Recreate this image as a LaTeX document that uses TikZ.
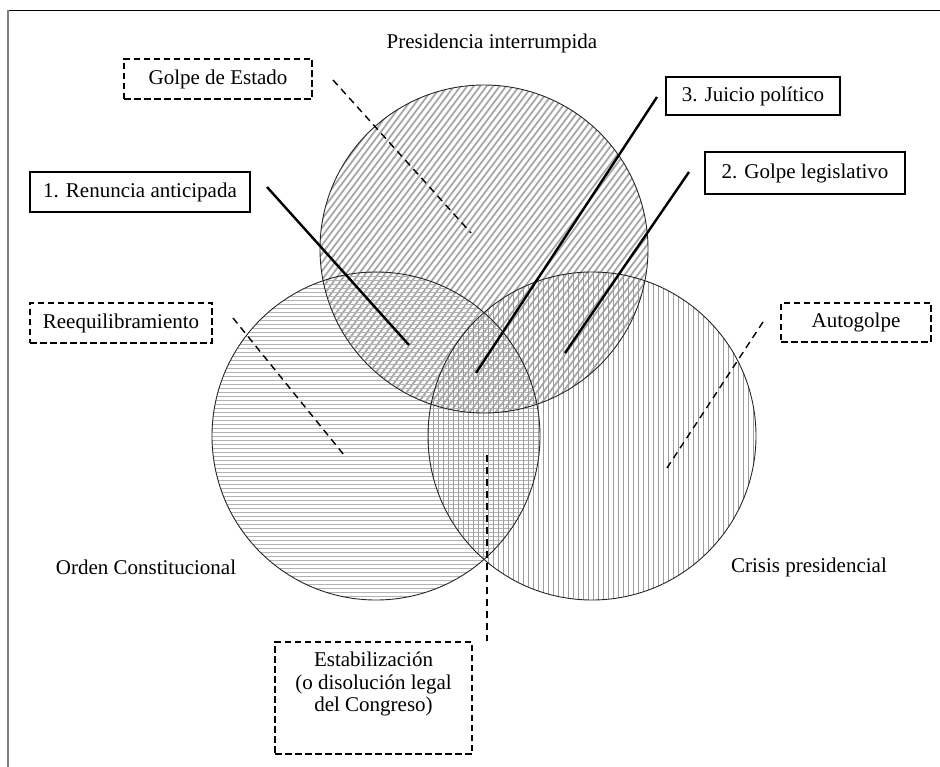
\documentclass[tikz,border=0pt]{standalone}
\usepackage{fontspec}
\setmainfont{Liberation Serif}
\begin{document}
\begin{tikzpicture}[x=1pt,y=-1pt,
  every node/.style={font=\fontsize{21}{22.5}\selectfont, inner sep=0pt, text=black},
  dbox/.style={draw, line width=1.8pt, dash pattern=on 6.5pt off 3.5pt},
  sbox/.style={draw, line width=2pt},
  dconn/.style={line width=1.4pt, dash pattern=on 7pt off 5pt},
  sconn/.style={line width=2.4pt},
  ring/.style={line width=0.9pt, draw=black!85},
  hatchT/.style={draw=black!34, line width=1.8pt},
  hatchL/.style={draw=black!30, line width=0.9pt},
  hatchR/.style={draw=black!38, line width=0.9pt}
]
\useasboundingbox (0,0) rectangle (940,767);
% frame
\draw[line width=1.4pt] (8,10.7) -- (940,10.7);
\draw[line width=2.2pt, draw=black!50] (8,10) -- (8,767);

% circle centres
\coordinate (cT) at (484,249);
\coordinate (cL) at (376,436);
\coordinate (cR) at (592,436);

% hatching
\begin{scope}
  \clip (cT) circle[radius=164pt];
  \foreach \i in {-230,-223.5,...,230}
    \draw[hatchT] ({484+\i-150},{249+200}) -- ({484+\i+150},{249-200});
\end{scope}
\begin{scope}
  \clip (cL) circle[radius=164pt];
  \foreach \j in {-164,-160,...,164}
    \draw[hatchL] ({376-170},{436+\j}) -- ({376+170},{436+\j});
\end{scope}
\begin{scope}
  \clip (cR) circle[radius=164pt];
  \foreach \j in {-164,-159,...,164}
    \draw[hatchR] ({592+\j},{436-170}) -- ({592+\j},{436+170});
\end{scope}
\draw[ring] (cT) circle[radius=164pt];
\draw[ring] (cL) circle[radius=164pt];
\draw[ring] (cR) circle[radius=164pt];

% labels
\node (title) at (492,43) {Presidencia interrumpida};
\node (orden) at (146,567) {Orden Constitucional};
\node (crisis) at (809,567) {Crisis presidencial};

% boxes
\node[dbox, minimum width=188pt, minimum height=40pt] (golpe) at (218,79) {Golpe de Estado};
\node[sbox, minimum width=220pt, minimum height=40pt] (renuncia) at (140,192) {1. Renuncia anticipada};
\node[dbox, minimum width=182pt, minimum height=40pt] (reeq) at (121,323) {Reequilibramiento};
\node[sbox, minimum width=174pt, minimum height=38pt] (juicio) at (753,96.5) {3. Juicio político};
\node[sbox, minimum width=200pt, minimum height=42pt] (legis) at (805,173) {2. Golpe legislativo};
\node[dbox, minimum width=150pt, minimum height=39pt] (auto) at (856,322.5) {Autogolpe};
\node[dbox, minimum width=197pt, minimum height=112pt] (estab) at (373.5,698) {};
\node[align=center] (estabtext) at (373.5,684) {Estabilización\\(o disolución legal\\del Congreso)};

% connector ends
\coordinate (gA) at (333,80);   \coordinate (gB) at (471,233);
\coordinate (rA) at (233,318);  \coordinate (rB) at (344,455);
\coordinate (aA) at (763,322);  \coordinate (aB) at (667,468);
\coordinate (eA) at (487,455);  \coordinate (eB) at (487,641);
\coordinate (nA) at (267,187);  \coordinate (nB) at (409,345);
\coordinate (jA) at (657,97);   \coordinate (jB) at (476,373);
\coordinate (lA) at (689,172);  \coordinate (lB) at (565,353);

\draw[dconn] (gA) -- (gB);
\draw[dconn] (rA) -- (rB);
\draw[dconn] (aA) -- (aB);
\draw[dconn] (eA) -- (eB);
\draw[sconn] (nA) -- (nB);
\draw[sconn] (jA) -- (jB);
\draw[sconn] (lA) -- (lB);
\end{tikzpicture}
\end{document}
